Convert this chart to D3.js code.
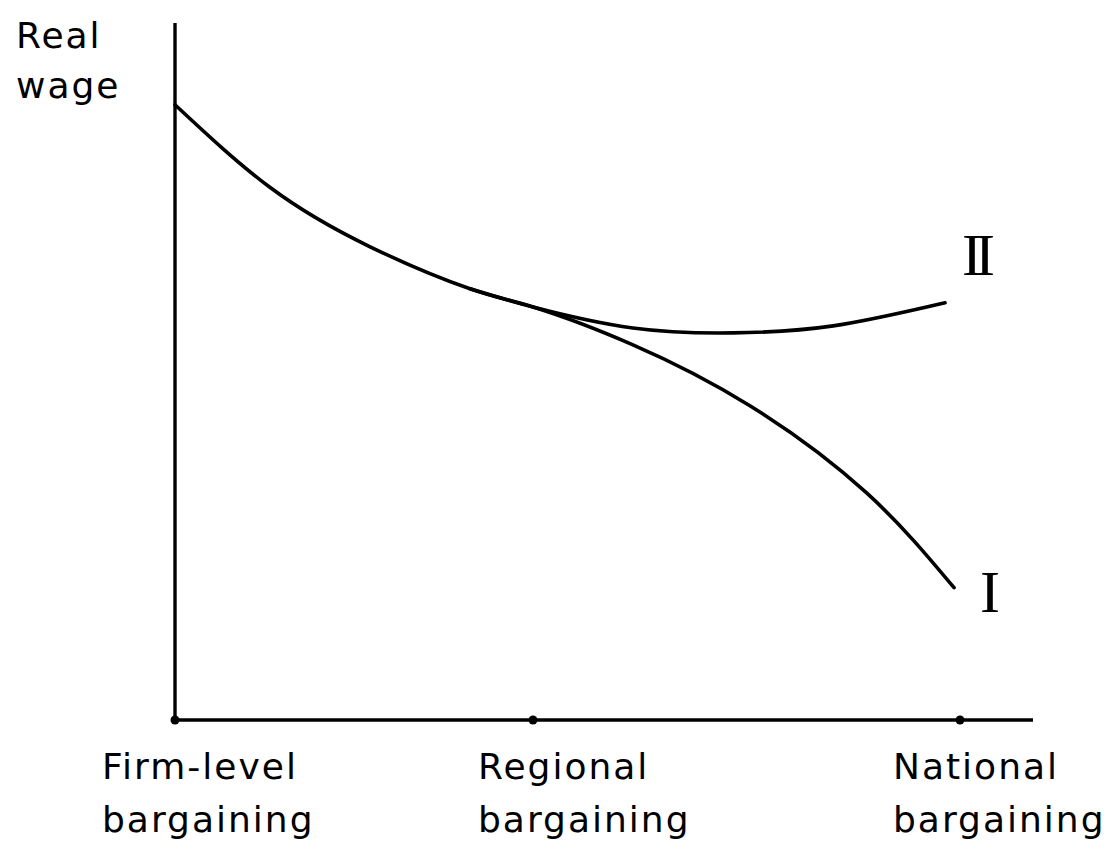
<!DOCTYPE html>
<html>
<head>
<meta charset="utf-8">
<script src="https://cdn.jsdelivr.net/npm/d3@7"></script>
<style>
  html, body { margin: 0; padding: 0; background: #fff; }
  svg { display: block; }
  .lbl { font-family: "DejaVu Sans", sans-serif; font-size: 36px; fill: #000; letter-spacing: 2px; }
  .roman { font-family: "Liberation Serif", serif; font-size: 60px; fill: #000; }
</style>
</head>
<body>
<svg id="chart" width="1119" height="845"></svg>
<script>
// ---- data ----
const categories = ["Firm-level bargaining", "Regional bargaining", "National bargaining"];
const categoryPos = [0, 1, 2];
const yAxisLabel = ["Real", "wage"];

// Curve I (real wage vs. degree of centralisation)
const curveIx = [0, 0.265, 0.545, 0.824, 1.0, 1.234, 1.508, 1.782, 1.986];
const curveIy = [87.9, 76.1, 67.6, 61.6, 59.0, 53.6, 44.9, 32.4, 18.9];
// Curve II (branches off around regional bargaining)
const curveIIx = [0.824, 1.0, 1.234, 1.468, 1.703, 1.965];
const curveIIy = [61.6, 59.0, 56.0, 55.3, 56.3, 59.6];
const seriesNames = ["I", "II"];

// ---- drawing ----
const svg = d3.select("#chart");
const x = d3.scaleLinear().domain([0, 1, 2]).range([175, 533, 960]);
const y = d3.scaleLinear().domain([0, 100]).range([720, 20]);
const xEnd = 1033, yTop = 23;

// axes
svg.append("line").attr("x1", x(0)).attr("x2", xEnd).attr("y1", y(0)).attr("y2", y(0))
   .attr("stroke", "#000").attr("stroke-width", 3.4);
svg.append("line").attr("x1", x(0)).attr("x2", x(0)).attr("y1", y(0)).attr("y2", yTop)
   .attr("stroke", "#000").attr("stroke-width", 3.4);

// category dots
svg.selectAll("circle.cat").data(categoryPos).enter().append("circle")
   .attr("class", "cat").attr("cx", d => x(d)).attr("cy", y(0)).attr("r", 4.5).attr("fill", "#000");

// category labels (two lines each)
const labelOffsets = [-73, -55, -67];
categories.forEach((c, i) => {
  const parts = c.split(" ");
  const t = svg.append("text").attr("class", "lbl")
     .attr("x", x(categoryPos[i]) + labelOffsets[i]).attr("y", 779);
  t.append("tspan").attr("x", x(categoryPos[i]) + labelOffsets[i]).attr("dy", 0).text(parts[0]);
  t.append("tspan").attr("x", x(categoryPos[i]) + labelOffsets[i]).attr("dy", 53).text(parts[1]);
});

// y-axis label
const yl = svg.append("text").attr("class", "lbl").attr("x", 16).attr("y", 48);
yl.append("tspan").attr("x", 16).attr("dy", 0).text(yAxisLabel[0]);
yl.append("tspan").attr("x", 16).attr("dy", 50).text(yAxisLabel[1]);

// curves
const line = d3.line().x(d => x(d[0])).y(d => y(d[1])).curve(d3.curveNatural);
const dI = curveIx.map((v, i) => [v, curveIy[i]]);
const dII = curveIIx.map((v, i) => [v, curveIIy[i]]);
svg.append("path").datum(dI).attr("d", line).attr("fill", "none")
   .attr("stroke", "#000").attr("stroke-width", 3.6).attr("stroke-linecap", "round");
svg.append("path").datum(dII).attr("d", line).attr("fill", "none")
   .attr("stroke", "#000").attr("stroke-width", 3.6).attr("stroke-linecap", "round");

// series labels
svg.append("text").attr("class", "roman").attr("text-anchor", "middle")
   .attr("x", x(curveIx[curveIx.length - 1]) + 36).attr("y", 612).text(seriesNames[0]);
svg.append("text").attr("class", "roman").attr("text-anchor", "middle")
   .attr("letter-spacing", "-7px")
   .attr("x", x(curveIIx[curveIIx.length - 1]) + 30).attr("y", 275).text(seriesNames[1]);
</script>
</body>
</html>
